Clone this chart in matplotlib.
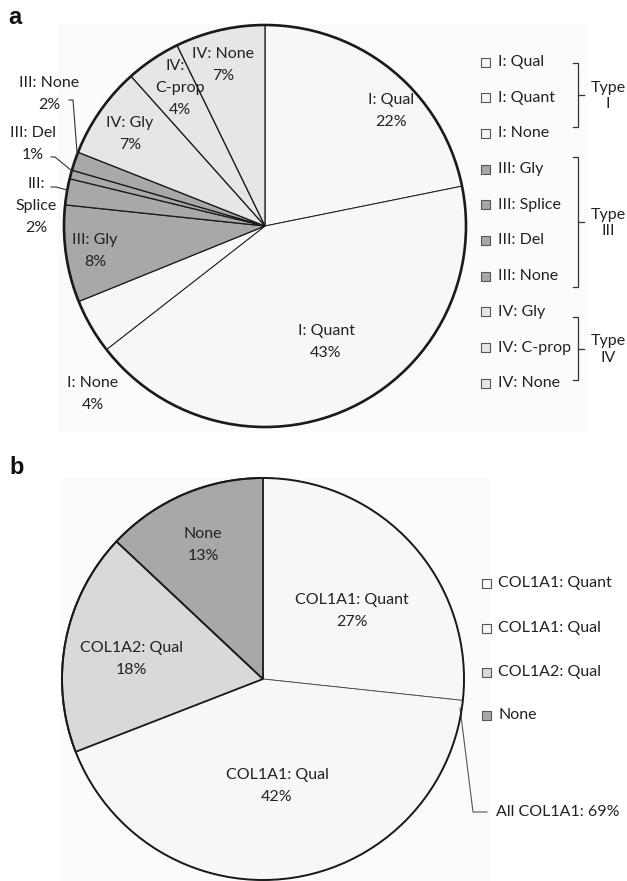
import numpy as np
import matplotlib
matplotlib.use("Agg")
import matplotlib.pyplot as plt
from matplotlib.patches import Circle, Rectangle

plt.rcParams['font.family'] = ['Lato', 'DejaVu Sans']

# panel a: share of each mutation class
a_labels = ['I: Qual', 'I: Quant', 'I: None',
            'III: Gly', 'III: Splice', 'III: Del', 'III: None',
            'IV: Gly', 'IV: C-prop', 'IV: None']
a_values = [21.8, 42.6, 4.4, 7.8, 2.1, 0.7, 1.5, 7.4, 4.4, 7.2]
a_types = ['I', 'I', 'I', 'III', 'III', 'III', 'III', 'IV', 'IV', 'IV']
a_groups = ['Type\nI', 'Type\nIII', 'Type\nIV']

# panel b
b_labels = ['COL1A1: Quant', 'COL1A1: Qual', 'COL1A2: Qual', 'None']
b_values = [26.7, 42.4, 17.9, 13.0]
b_callout = 'All COL1A1: 69%'

type_col = {'I': '#f7f7f7', 'III': '#a6a8aa', 'IV': '#e6e6e6'}
b_colors = ['#f7f7f7', '#f7f7f7', '#d9d9da', '#a6a8aa']
txt = '#222222'
edge = '#1a1a1a'
FS = 11.5
GAP = 22   # px between label lines

W, H = 627, 881
def Y(y):
    return H - y

def label(x, y, lines, dx=None):
    # one text per line so the boxes stay tight
    n = len(lines)
    for i, s in enumerate(lines):
        xx = x + (dx[i] if dx else 0)
        ax.text(xx, Y(y + (i - (n - 1) / 2) * GAP), s, ha='center', va='center',
                fontsize=FS, color=txt, zorder=5)

fig = plt.figure(figsize=(W / 100, H / 100), dpi=100)
ax = fig.add_axes([0, 0, 1, 1])

# light background panels
ax.add_patch(Rectangle((58, Y(433)), 530, 409, fc='#fbfbfb', ec='none', zorder=0))
ax.add_patch(Rectangle((60, 0), 430, Y(478), fc='#fbfbfb', ec='none', zorder=0))

# ---- panel a ----
ca, ra = (265, Y(226)), 201
a_cols = [type_col[t] for t in a_types]
wa, _ = ax.pie(a_values, colors=a_cols, startangle=90, counterclock=False,
               center=ca, radius=ra,
               wedgeprops=dict(edgecolor=edge, linewidth=0.9))
for w, t in zip(wa, a_types):
    if t == 'I':
        w.set_linewidth(0.7)
        w.set_zorder(1)
    else:
        w.set_zorder(2)
ax.add_patch(Circle(ca, ra, fill=False, lw=1.9, ec=edge, zorder=3))

a_pct = [f'{round(v)}%' for v in a_values]
a_text_pos = [(391, 111), (326, 342), (93, 394), (95, 251), (36, 206),
              (33, 144), (49, 94), (130, 134), (180, 88), (223, 65)]
for i, (lab, p, (x, y)) in enumerate(zip(a_labels, a_pct, a_text_pos)):
    if i == 4:
        label(x, y, ['III:', 'Splice', p])
    elif i == 8:
        label(x, y, ['IV:', 'C-prop', p], dx=[-5, 0, 0])
    else:
        label(x, y, [lab, p])

# leader lines for the small slices
leaders = [[(69, 100), (73, 100), (77, 152)],
           [(51, 157), (55, 157), (72, 171)],
           [(51, 187), (56, 187), (67, 190)]]
for pts in leaders:
    xs, ys = zip(*pts)
    ax.plot(xs, [Y(v) for v in ys], color='#333333', lw=0.8, zorder=4)

# legend a
rows_a = 62 + 35.7 * np.arange(len(a_labels))
for lab, c, yy in zip(a_labels, a_cols, rows_a):
    ax.add_patch(Rectangle((480.5, Y(yy) - 4.5), 9, 9, fc=c, ec='#555555', lw=0.8))
    ax.text(498, Y(yy), lab, ha='left', va='center', fontsize=FS, color=txt)

# brackets
brackets = [(63, 127), (157, 287), (317, 380)]
for (top, bot), g in zip(brackets, a_groups):
    mid = (top + bot) / 2
    ax.plot([573, 578, 578, 573], [Y(top), Y(top), Y(bot), Y(bot)],
            color='#333333', lw=0.9)
    ax.plot([578, 584], [Y(mid), Y(mid)], color='#333333', lw=0.9)
    ax.text(608, Y(mid + 1), g, ha='center', va='center', fontsize=FS,
            color=txt, linespacing=1.2)

# ---- panel b ----
cb, rb = (263, Y(679)), 201
wb, _ = ax.pie(b_values, colors=b_colors, startangle=90, counterclock=False,
               center=cb, radius=rb,
               wedgeprops=dict(edgecolor=edge, linewidth=1.3))
for w in wb[:2]:
    w.set_linewidth(0.6)
    w.set_edgecolor('#444444')
    w.set_zorder(1)
for w in wb[2:]:
    w.set_zorder(2)
ax.add_patch(Circle(cb, rb, fill=False, lw=1.4, ec=edge, zorder=3))

b_text_pos = [(352, 611), (277, 786), (131, 659), (203, 545)]
for lab, v, (x, y) in zip(b_labels, b_values, b_text_pos):
    label(x, y, [lab, f'{round(v)}%'])

rows_b = [583, 628, 672, 715]
for lab, c, yy in zip(b_labels, b_colors, rows_b):
    ax.add_patch(Rectangle((481.5, Y(yy) - 4.5), 9, 9, fc=c, ec='#555555', lw=0.8))
    ax.text(498, Y(yy), lab, ha='left', va='center', fontsize=FS, color=txt)

ax.plot([460, 473, 487], [Y(708), Y(812), Y(812)], color='#555555', lw=0.8)
ax.text(496, Y(812), b_callout, ha='left', va='center', fontsize=FS, color=txt)

# panel letters
ax.text(8, Y(17), 'a', fontsize=17, fontweight='bold', family='Liberation Sans',
        ha='left', va='center', color='#111111')
ax.text(9, Y(468), 'b', fontsize=17, fontweight='bold', family='Liberation Sans',
        ha='left', va='center', color='#111111')

ax.set_xlim(0, W)
ax.set_ylim(0, H)
ax.set_aspect('auto')
ax.axis('off')

fig.savefig('out.png', dpi=100, facecolor='white')
